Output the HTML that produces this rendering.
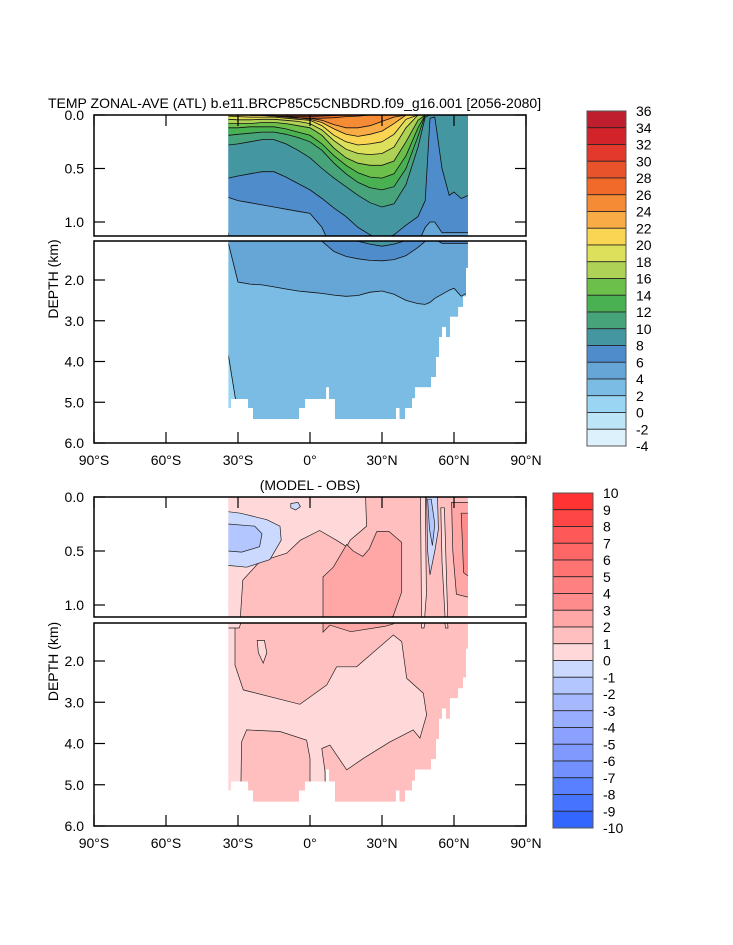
<!DOCTYPE html>
<html><head><meta charset="utf-8"><style>
html,body{margin:0;padding:0;background:#fff;width:733px;height:945px;overflow:hidden;}
svg{display:block;font-family:"Liberation Sans",Arial,sans-serif;overflow:hidden;}
</style></head><body>
<svg id="fig" width="733" height="945" viewBox="0 0 733 945" xmlns="http://www.w3.org/2000/svg">
<text x="48" y="108" font-size="14">TEMP ZONAL-AVE (ATL) b.e11.BRCP85C5CNBDRD.f09_g16.001 [2056-2080]</text>
<text x="310" y="490" font-size="14" text-anchor="middle">(MODEL - OBS)</text>
</svg>
<script>
// ---------- data ----------
const lats = [-34,-30,-25,-20,-15,-10,-5,0,5,10,15,20,25,30,35,40,45,48,50,52,55,58,60,63,66];
const isoLevels = [2,4,6,8,10,12,14,16,18,20,22,24,26,28];
const iso2  = [3.85,5.3,9,9,9,9,9,9,9,9,9,9,9,9,9,9,9,9,9,9,9,9,9,9,9];
const iso4  = [1.1,2.05,2.1,2.12,2.17,2.22,2.27,2.3,2.33,2.37,2.4,2.38,2.3,2.27,2.35,2.5,2.58,2.6,2.55,2.45,2.35,2.25,2.2,2.4,2.3];
const iso6  = [0.77,0.8,0.82,0.84,0.86,0.88,0.9,0.92,1.05,1.3,1.42,1.48,1.52,1.53,1.5,1.4,1.2,1.05,1.0,1.0,1.1,1.1,1.1,1.1,1.1];
const iso8  = [0.59,0.57,0.55,0.53,0.53,0.58,0.64,0.7,0.78,0.87,0.95,1.05,1.12,1.17,1.12,1.03,0.95,0.8,0.03,0.02,0.5,0.75,0.72,0.78,0.75];
const iso10 = [0.28,0.27,0.25,0.23,0.23,0.27,0.33,0.4,0.5,0.59,0.67,0.75,0.82,0.86,0.83,0.65,0.3,0.02,0,0,0,0,0,0,0];
const iso12 = [0.19,0.18,0.17,0.16,0.16,0.18,0.21,0.25,0.33,0.45,0.55,0.63,0.68,0.7,0.67,0.5,0.2,0,0,0,0,0,0,0,0];
const iso14 = [0.12,0.12,0.11,0.11,0.11,0.13,0.16,0.19,0.27,0.38,0.47,0.54,0.58,0.59,0.55,0.38,0.12,0,0,0,0,0,0,0,0];
const iso16 = [0.08,0.08,0.08,0.07,0.07,0.08,0.1,0.12,0.19,0.31,0.4,0.45,0.47,0.47,0.43,0.25,0.05,0,0,0,0,0,0,0,0];
const iso18 = [0.04,0.045,0.045,0.04,0.04,0.05,0.06,0.08,0.14,0.24,0.32,0.36,0.37,0.36,0.3,0.12,0,0,0,0,0,0,0,0,0];
const iso20 = [0.01,0.015,0.02,0.02,0.02,0.03,0.04,0.05,0.1,0.19,0.25,0.28,0.27,0.25,0.18,0.04,0,0,0,0,0,0,0,0,0];
const iso22 = [0,0,0.005,0.005,0.01,0.015,0.025,0.04,0.07,0.13,0.18,0.2,0.18,0.15,0.08,0,0,0,0,0,0,0,0,0,0];
const iso24 = [0,0,0,0.005,0.01,0.015,0.025,0.03,0.05,0.09,0.12,0.12,0.1,0.06,0.02,0,0,0,0,0,0,0,0,0,0];
const iso26 = [0,0,0,0,0.01,0.02,0.03,0.03,0.03,0.025,0.015,0.01,0,0,0,0,0,0,0,0,0,0,0,0,0];
const iso28 = [0,0,0,0,0,0.01,0.015,0.015,0.01,0.005,0,0,0,0,0,0,0,0,0,0,0,0,0,0,0];
const isoDepths = [iso2,iso4,iso6,iso8,iso10,iso12,iso14,iso16,iso18,iso20,iso22,iso24,iso26,iso28];
const tempLabels = ["36","34","32","30","28","26","24","22","20","18","16","14","12","10","8","6","4","2","0","-2","-4"];
const tempColors = ["#be1e2d","#d2232a","#e2392c","#e8532b","#f26a2a","#f68b35","#f9ab45","#f9d553","#dde05a","#aed256","#6dbf4b","#4ab152","#47a37a","#4496a0","#4f8ccb","#66a6d6","#7bbce5","#9ad6f3","#bde5f8","#ddf1fc"];
const bathEdges = [-34,-32.9,-25.8,-23.75,-4.6,-2.1,6.7,7.9,10.4,35.8,37.3,39.6,42.5,43.75,50.4,52.5,53.75,55,56.7,58.3,61.7,63.75,65,65.8];
const bathDepth = [5.14,4.92,5.14,5.41,5.14,4.92,4.63,4.92,5.41,5.14,5.41,5.14,4.9,4.63,4.38,3.89,3.4,3.15,3.4,2.9,2.66,2.4,1.7];
const diffLabels = ["10","9","8","7","6","5","4","3","2","1","0","-1","-2","-3","-4","-5","-6","-7","-8","-9","-10"];
const diffColors = ["#ff3333","#ff4646","#ff5858","#ff6666","#ff7373","#ff8080","#ff8c8c","#ffa6a6","#ffbfbf","#ffd9d9","#ccd9ff","#b3c6ff","#a6b8ff","#99adff","#8ca1ff","#8099ff","#7390ff","#5980ff","#4673ff","#3366ff"];
const lowLightLat = [-40,-31.25,-31.25,-27.8,-4.2,7,11.1,19.4,34.7,38.2,40.3,47.2,48.6,45.8,43,33.3,22.2,15.3,8.3,4.9,6.25,6.5,0,0,-1.4,-12.5,-26.4,-28.5,-29.2,-40];
const lowLightDep = [1.0,1.0,2.1,2.7,3.05,2.58,2.14,2.14,1.37,1.53,2.42,2.78,3.31,3.87,3.67,3.96,4.36,4.64,4.04,4.12,4.68,6.5,6.5,4.36,3.92,3.71,3.67,3.96,6.5,6.5];
const patchLat = [-22,-19,-18,-19.5,-21.5];
const patchDep = [1.5,1.5,1.8,2.05,1.8];
const upLightLat = [-40,23,23.6,16.7,15.3,11,4,-4,-9.7,-21,-28,-29,-29.5,-40];
const upLightDep = [-0.1,-0.1,0.27,0.4,0.46,0.4,0.31,0.4,0.52,0.6,0.77,1.11,1.2,1.2];
const stripeLat = [46,48,48.5,47.5,46.5];
const stripeDep = [-0.1,-0.1,0.9,1.2,1.2];
const stripe2Lat = [54.5,56,57.5,56.5,55];
const stripe2Dep = [0.1,0.1,1.2,1.2,0.6];
const warmLat = [5.4,5.4,9.7,15.3,18,22,24.7,27.8,33,38.2,38.2,34.7,31,17,8.3];
const warmDep = [1.3,0.74,0.65,0.44,0.5,0.55,0.48,0.32,0.32,0.42,0.88,1.1,1.16,1.29,1.13];
const eastLat = [59,70,70,61,59.5];
const eastDep = [0.05,0.05,0.95,0.9,0.5];
const east2Lat = [63,70,70,64];
const east2Dep = [0.15,0.15,0.8,0.7];
const blue1Lat = [-40,-29,-18,-12.5,-12,-16.7,-26.4,-40];
const blue1Dep = [0.12,0.15,0.21,0.27,0.4,0.58,0.65,0.62];
const blue2Lat = [-40,-23,-20,-21,-28.5,-40];
const blue2Dep = [0.24,0.27,0.34,0.46,0.51,0.49];
const spotLat = [-8,-5,-4,-6,-8];
const spotDep = [0.06,0.05,0.09,0.12,0.1];
const tongue1Lat = [48.5,50,53,53.5,52,50,49];
const tongue1Dep = [-0.1,-0.1,-0.1,0.3,0.5,0.72,0.5];
const tongue2Lat = [49,50.5,52,51,49.8];
const tongue2Dep = [0.02,0.02,0.25,0.45,0.3];
const diffRegions = [
  [lowLightLat,lowLightDep,"#ffd9d9"],[patchLat,patchDep,"#ffd9d9"],[upLightLat,upLightDep,"#ffd9d9"],
  [stripeLat,stripeDep,"#ffd9d9"],[stripe2Lat,stripe2Dep,"#ffd9d9"],[warmLat,warmDep,"#ffa6a6"],[eastLat,eastDep,"#ffa6a6"],[east2Lat,east2Dep,"#ff8c8c"],
  [blue1Lat,blue1Dep,"#ccd9ff"],[blue2Lat,blue2Dep,"#b3c6ff"],[spotLat,spotDep,"#ccd9ff"],
  [tongue1Lat,tongue1Dep,"#ccd9ff"],[tongue2Lat,tongue2Dep,"#b3c6ff"]];
const latTicks = [-90,-60,-30,0,30,60,90];
const latTickLabels = ["90°S","60°S","30°S","0°","30°N","60°N","90°N"];
const depthTicksUp = [0,0.5,1.0];
const depthTicksLow = [2,3,4,5,6];

// ---------- drawing ----------
const NS="http://www.w3.org/2000/svg";
const svg=document.getElementById('fig');
function el(tag,attrs,parent){const e=document.createElementNS(NS,tag);for(const k in attrs)e.setAttribute(k,attrs[k]);(parent||svg).appendChild(e);return e;}
const X = lat => 310 + lat*2.4;
const cl = v => Math.max(0, Math.min(940, v));
const panels = [
  {name:'temp', up:[115,236], low:[241,443], yU:d=>cl(115+107*d), yL:d=>cl(280+(d-2)*40.75)},
  {name:'diff', up:[497,617], low:[623,826], yU:d=>cl(497+108*d), yL:d=>cl(661+(d-2)*41.25)}];
const defs=el('defs',{});
function bathPath(Y){
  let p=`M${X(-34)},${Y(-0.2)}`;
  for(let i=0;i<bathDepth.length;i++){p+=` L${X(bathEdges[i])},${Y(bathDepth[i])} L${X(bathEdges[i+1])},${Y(bathDepth[i])}`;}
  p+=` L${X(65.8)},${Y(-0.2)} Z`;return p;}
let cid=0;
function makeClip(x,y,w,h,Y){
  const a='c'+(cid++);const c1=el('clipPath',{id:a},defs);el('rect',{x:x,y:y,width:w,height:h},c1);
  const b='c'+(cid++);const c2=el('clipPath',{id:b},defs);el('path',{d:bathPath(Y)},c2);
  const g1=el('g',{'clip-path':`url(#${a})`});const g2=el('g',{'clip-path':`url(#${b})`},g1);return g2;}
function polyPath(la,de,Y){return la.map((l,i)=>(i?'L':'M')+X(l).toFixed(1)+','+Y(de[i]).toFixed(1)).join(' ')+' Z';}

panels.forEach((P,pi)=>{
  ['up','low'].forEach(part=>{
    const Y = part==='up'?P.yU:P.yL; const r=P[part];
    const g=makeClip(94,r[0],432,r[1]-r[0],Y);
    
    
    if(pi===0){
      el('rect',{x:X(-40),y:r[0],width:X(72)-X(-40),height:r[1]-r[0],fill:'#9ad6f3'},g);
      isoDepths.forEach((arr,k)=>{
        const la=[-40].concat(lats,[72]); const de=[arr[0]].concat(arr,[arr[arr.length-1]]);
        let p=la.map((l,i)=>(i?'L':'M')+X(l).toFixed(1)+','+Y(de[i]).toFixed(1)).join(' ');
        p+=` L${X(72)},${Y(-0.2)} L${X(-40)},${Y(-0.2)} Z`;
        const f=el('path',{d:p,fill:tempColors[16-k]},g);
        
        
      });
      isoDepths.forEach((arr,k)=>{
        let p='';let pen=false;
        for(let i=0;i<lats.length;i++){
          const vis=arr[i]>0.004;const prevVis=i>0&&arr[i-1]>0.004;
          if(vis||prevVis){p+=(pen?'L':'M')+X(lats[i]).toFixed(1)+','+Y(arr[i]).toFixed(1)+' ';pen=true;}else pen=false;}
        const ln=el('path',{d:p||'M0,0',fill:'none',stroke:'#111','stroke-width':0.8},g);
        
        
      });
    } else {
      el('rect',{x:X(-40),y:r[0],width:X(72)-X(-40),height:r[1]-r[0],fill:'#ffbfbf'},g);
      diffRegions.forEach((R,k)=>{
        const f=el('path',{d:polyPath(R[0],R[1],Y),fill:R[2],stroke:'#222','stroke-width':0.7},g);
        
        
      });
    }
    const fr=el('rect',{x:94,y:r[0],width:432,height:r[1]-r[0],fill:'none',stroke:'#000','stroke-width':1.5});
    
    
    const tks = part==='up'?depthTicksUp:depthTicksLow;
    tks.forEach(d=>{
      const y=Y(d);
      el('line',{x1:94,x2:105,y1:y,y2:y,stroke:'#000','stroke-width':1.2});
      el('line',{x1:526,x2:515,y1:y,y2:y,stroke:'#000','stroke-width':1.2});
      const t=el('text',{x:84,y:y+5,'font-size':14,'text-anchor':'end'});t.textContent=d.toFixed(1);
      
      
    });
  });
  const yb=P.low[1], yt=P.up[0];
  latTicks.forEach((l,i)=>{
    el('line',{x1:X(l),x2:X(l),y1:yb,y2:yb-11,stroke:'#000','stroke-width':1.2});
    el('line',{x1:X(l),x2:X(l),y1:yt,y2:yt+11,stroke:'#000','stroke-width':1.2});
    const t=el('text',{x:X(l),y:yb+22,'font-size':14,'text-anchor':'middle'});t.textContent=latTickLabels[i];
    
    
  });
  const yc=(P.up[0]+P.low[1])/2;
  const yl=el('text',{x:0,y:0,'font-size':14,'text-anchor':'middle',transform:`translate(58,${yc}) rotate(-90)`});
  yl.textContent='DEPTH (km)';
  
  
});

function colorbar(x,y0,w,colors,labels,name){
  const h=335/colors.length;
  const g=el('g',{});
  
  
  colors.forEach((c,i)=>{
    const r=el('rect',{x:x,y:y0+i*h,width:w,height:h,fill:c,stroke:'#222','stroke-width':0.8},g);
    
    
  });
  el('rect',{x:x,y:y0,width:w,height:335,fill:'none',stroke:'#555','stroke-width':1},g);
  labels.forEach((s,i)=>{
    const t=el('text',{x:x+w+10,y:y0+i*h+5,'font-size':14},g);t.textContent=s;
    
    
  });
}
colorbar(587,111,39,tempColors,tempLabels,'temp-colorbar');
colorbar(553,493,40,diffColors,diffLabels,'diff-colorbar');
</script>
</body></html>
